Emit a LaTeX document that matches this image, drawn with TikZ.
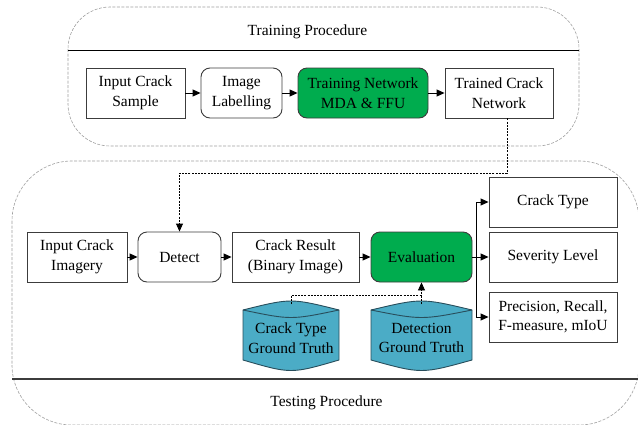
\documentclass[tikz,border=0pt]{standalone}
\usepackage{fontspec}
\setmainfont{Liberation Serif}
\usetikzlibrary{arrows.meta,calc}
\definecolor{boxgreen}{RGB}{0,172,78}
\definecolor{cylblue}{RGB}{75,172,198}
\definecolor{cyledge}{RGB}{40,78,92}
\definecolor{lineGray}{RGB}{60,60,60}
\begin{document}
\begin{tikzpicture}[x=1pt,y=-1pt,
  font=\fontsize{15.5}{19.5}\selectfont,
  box/.style={draw=lineGray,line width=0.9pt,fill=white,align=center,minimum height=50pt,inner sep=1pt},
  rbox/.style={box,rounded corners=9pt},
  gbox/.style={rbox,fill=boxgreen},
  arr/.style={-{Triangle[length=8pt,width=7pt]},line width=0.9pt,black},
  dotarr/.style={arr,dash pattern=on 2pt off 1.2pt},
  dotline/.style={line width=0.9pt,dash pattern=on 2pt off 1.2pt},
  container/.style={draw=gray!75,line width=0.6pt,dash pattern=on 3pt off 1.5pt},
  cyl/.style={draw=cyledge,fill=cylblue,line width=0.9pt},
  lbl/.style={align=center,inner sep=0pt}]
\useasboundingbox (0,0) rectangle (638,424);

% containers
\draw[container,rounded corners=60pt] (12,161) rectangle (639,425);
\draw[container,rounded corners=42pt] (68,7) rectangle (579,146);
\draw[black,line width=0.9pt] (68,50) -- (579,50);
\draw[lineGray,line width=1.6pt] (12,379) -- (638,379);
\node[lbl] (ttl1) at (307.5,32) {Training Procedure};
\node[lbl] (ttl2) at (326.5,403) {Testing Procedure};

% training row
\node[box,minimum width=99pt] (ics) at (135.5,93) {Input Crack\\Sample};
\node[rbox,minimum width=81pt] (il) at (241.5,93) {Image\\Labelling};
\node[gbox,minimum width=130pt] (tn) at (363,93) {Training Network\\MDA \& FFU};
\node[box,minimum width=108pt] (tcn) at (499,93) {Trained Crack\\Network};
\draw[arr] (ics) -- (il);
\draw[arr] (il) -- (tn);
\draw[arr] (tn) -- (tcn);

% testing row
\node[box,minimum width=100pt] (ici) at (77,257) {Input Crack\\Imagery};
\node[rbox,minimum width=83pt] (det) at (179.5,257) {Detect};
\node[box,minimum width=127pt] (cr) at (295.5,257) {Crack Result\\(Binary Image)};
\node[gbox,minimum width=101pt] (ev) at (421.5,257) {Evaluation};
\node[box,minimum width=128pt] (ct) at (553,202) {Crack Type};
\node[box,minimum width=128pt] (sl) at (553,257) {Severity Level};
\node[box,minimum width=128pt] (pr) at (553,317) {Precision, Recall,\\F-measure, mIoU};

\draw[arr] (ici) -- (det);
\draw[arr] (det) -- (cr);
\draw[arr] (cr) -- (ev);
\draw[arr] (ev) -- (sl);
\coordinate (br) at (476,257);
\draw[arr] (br) |- (ct.west);
\draw[arr] (br) |- (pr.west);

% dotted feed from trained network to detect
\coordinate (tk) at (507,173);
\draw[dotarr] (tcn.south -| tk) -- (tk) -| (det.north);

% cylinders
\draw[cyl] (243,310) .. controls (291,298) .. (339,310) -- (339,360)
  .. controls (291,374) .. (243,360) -- cycle;
\draw[cyledge,line width=0.9pt] (243,310) .. controls (291,320) .. (339,310);
\draw[cyl] (371,310) .. controls (421.5,298) .. (472,310) -- (472,360)
  .. controls (421.5,374) .. (371,360) -- cycle;
\draw[cyledge,line width=0.9pt] (371,310) .. controls (421.5,320) .. (472,310);
\node[lbl] (ctg) at (291,338) {Crack Type\\Ground Truth};
\node[lbl] (dgt) at (421.5,338) {Detection\\Ground Truth};
\coordinate (ctgtop) at (291,304);
\coordinate (dgttop) at (421.5,304);
\coordinate (jn) at (421.5,295);
\draw[dotline] (ctgtop) |- (jn);
\draw[dotarr] (dgttop) -- (ev.south);
\end{tikzpicture}
\end{document}
